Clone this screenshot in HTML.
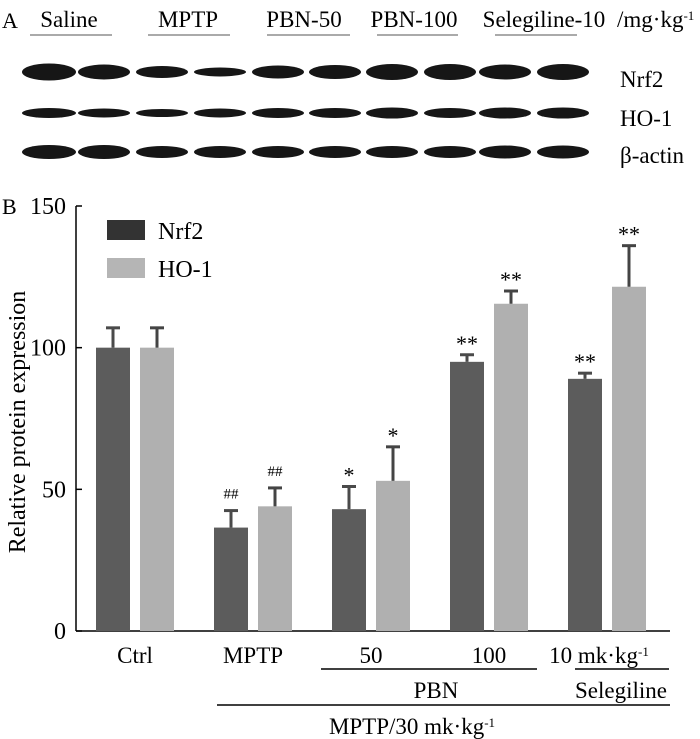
<!DOCTYPE html>
<html><head><meta charset="utf-8"><style>
body{margin:0;background:#fff;font-family:"Liberation Serif","Times New Roman",Times,"DejaVu Serif",serif;}
svg{display:block;}
svg text, svg tspan{font-family:"Liberation Serif","Times New Roman",Times,"DejaVu Serif",serif !important;}
</style></head><body>
<svg width="700" height="739" viewBox="0 0 700 739" font-family="Liberation Serif, Times New Roman, serif">
<g id="blot"></g>
<g id="chart"></g>
</svg>
<script>
const categories = ["Ctrl","MPTP","50","100","10"];
const nrf2Values = [100, 36.5, 43, 95, 89];
const nrf2Errors = [7, 6, 8, 2.5, 2];
const ho1Values = [100, 44, 53, 115.5, 121.5];
const ho1Errors = [7, 6.5, 12, 4.5, 14.5];
const nrf2Marks = ["", "##", "*", "**", "**"];
const ho1Marks = ["", "##", "*", "**", "**"];
const yTicks = [0, 50, 100, 150];

const NS = "http://www.w3.org/2000/svg";
function mk(tag, attrs, parent, text){
  const e = document.createElementNS(NS, tag);
  for (const k in attrs) e.setAttribute(k, attrs[k]);
  if (tag === 'text') e.setAttribute('font-family', 'Liberation Serif, Times New Roman, serif');
  if (text !== undefined) e.textContent = text;
  parent.appendChild(e);
  return e;
}
function sup(parent, txt){
  const s = document.createElementNS(NS,'tspan');
  s.setAttribute('baseline-shift','super');
  s.setAttribute('font-size','13');
  s.textContent = txt;
  parent.appendChild(s);
}
const blot = document.getElementById('blot');
const chart = document.getElementById('chart');

// ---- Panel A: blot ----
let t = mk('text',{x:2,y:28,'font-size':22},blot,'A');


const grpLabels = [["Saline",69,30,112],["MPTP",188,148,230],["PBN-50",304,267,350],["PBN-100",414,377,458],["Selegiline-10",544,495,577]];
grpLabels.forEach(g=>{
  let tx = mk('text',{x:g[1],y:27,'font-size':23,'text-anchor':'middle'},blot,g[0]);
  
  
  let ln = mk('line',{x1:g[2],x2:g[3],y1:35,y2:35,stroke:'#555','stroke-width':1},blot);
  
  
});
let u = mk('text',{x:617,y:27,'font-size':23},blot,'/mg·kg');


sup(u,'-1');
const rows = [["Nrf2",72,87,[17,15,12,9,13,14,16,16,15,16]],["HO-1",113,126,[10,9,8,9,10,10,11,10,11,11]],["β-actin",152,163,[14,14,12,12,12,12,12,12,13,13]]];
const laneC = [49,104,162,220,278,335,392,450,505,563];
rows.forEach(r=>{
  r[3].forEach((h,i)=>{
    const w = i===0?54:52;
    let b = mk('rect',{x:laneC[i]-w/2,y:r[1]-h/2,width:w,height:h,rx:w/2,ry:h/2,fill:'#161616'},blot);
    
    
  });
  let lt = mk('text',{x:620,y:r[2],'font-size':23},blot,r[0]);
  
  
});

// ---- Panel B ----
const x0 = 76, y0 = 631, yTop = 206, ymax = 150;
const y = v => y0 - (v/ymax)*(y0-yTop);
const groupX = i => 96 + i*118;
const bw = 34;
let bl = mk('text',{x:2,y:214,'font-size':22},chart,'B');


mk('line',{x1:x0,x2:x0,y1:yTop,y2:y0,stroke:'#000','stroke-width':1.5},chart);
mk('line',{x1:x0,x2:670,y1:y0,y2:y0,stroke:'#000','stroke-width':1.5},chart);
yTicks.forEach(v=>{
  let tk = mk('line',{x1:x0,x2:x0+6,y1:y(v),y2:y(v),stroke:'#000','stroke-width':1.5},chart);
  
  
  let tl = mk('text',{x:x0-10,y:y(v)+8,'font-size':24,'text-anchor':'end'},chart,String(v));
  
  
});
let yt = mk('text',{x:0,y:0,'font-size':24,'text-anchor':'middle',transform:'translate(25,422) rotate(-90)'},chart,'Relative protein expression');



function series(vals, errs, marks, off, col, errCol, name){
  vals.forEach((v,i)=>{
    const bx = groupX(i)+off;
    let r = mk('rect',{x:bx,y:y(v),width:bw,height:y0-y(v),fill:col},chart);
    
    
    const cx = bx+bw/2, ye = y(v+errs[i]);
    let e1 = mk('line',{x1:cx,x2:cx,y1:y(v),y2:ye,stroke:errCol,'stroke-width':3},chart);
    
    
    mk('line',{x1:cx-7,x2:cx+7,y1:ye,y2:ye,stroke:errCol,'stroke-width':3},chart);
    if (marks[i]) {
      const isHash = marks[i]==='##';
      let m = mk('text',{x:cx,y:ye-(isHash?12:4),'font-size':isHash?15:22,'text-anchor':'middle'},chart,marks[i]);
      
      
    }
  });
}
series(nrf2Values, nrf2Errors, nrf2Marks, 0, '#5c5c5c', '#4a4a4a', 'nrf2');
series(ho1Values, ho1Errors, ho1Marks, 44, '#b0b0b0', '#444', 'ho1');

// legend
let l1 = mk('rect',{x:107,y:220,width:38,height:20,fill:'#333'},chart);


mk('text',{x:158,y:239,'font-size':24},chart,'Nrf2');
let l2 = mk('rect',{x:107,y:258,width:38,height:20,fill:'#b5b5b5'},chart);


mk('text',{x:158,y:277,'font-size':24},chart,'HO-1');

// category labels
categories.forEach((c,i)=>{
  const cx = groupX(i)+39;
  let lab = mk('text',{x:i===4?cx-8:cx,y:663,'font-size':23,'text-anchor':'middle'},chart,i===4?'10 mk·kg':c);
  
  
  if (i===4) sup(lab,'-1');
});
mk('line',{x1:321,x2:537,y1:669,y2:669,stroke:'#000','stroke-width':1.5},chart);
mk('line',{x1:575,x2:669,y1:669,y2:669,stroke:'#000','stroke-width':1.5},chart);
mk('text',{x:436,y:698,'font-size':23,'text-anchor':'middle'},chart,'PBN');
mk('text',{x:621,y:698,'font-size':23,'text-anchor':'middle'},chart,'Selegiline');
mk('line',{x1:217,x2:670,y1:705,y2:705,stroke:'#000','stroke-width':1.5},chart);
let ml = mk('text',{x:412,y:734,'font-size':23,'text-anchor':'middle'},chart,'MPTP/30 mk·kg');

sup(ml,'-1');
</script>
</body></html>
